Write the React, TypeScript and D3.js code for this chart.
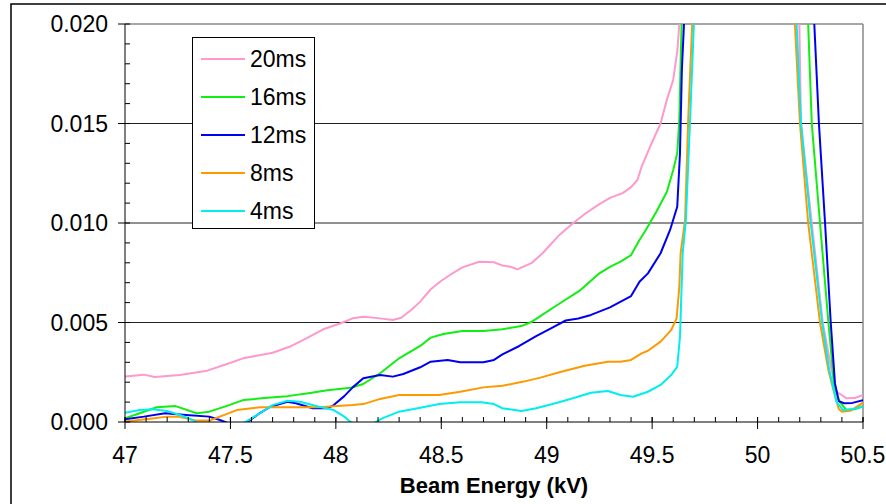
import React from 'react'
import * as d3 from 'd3'

// values are read in units of 0.001, converted when plotted
const series20ms: [number, number][] = [
  [47.0, 2.28], [47.09, 2.38], [47.14, 2.26], [47.26, 2.36], [47.39, 2.58], [47.48, 2.9],
  [47.56, 3.2], [47.7, 3.48], [47.78, 3.78], [47.86, 4.2], [47.94, 4.66], [48.02, 4.95],
  [48.08, 5.21], [48.13, 5.29], [48.2, 5.22], [48.27, 5.13], [48.31, 5.24], [48.36, 5.65],
  [48.4, 6.05], [48.45, 6.67], [48.5, 7.1], [48.55, 7.45], [48.6, 7.77], [48.68, 8.05],
  [48.75, 8.03], [48.79, 7.86], [48.83, 7.8], [48.86, 7.67], [48.93, 8.0], [48.98, 8.48],
  [49.06, 9.4], [49.12, 9.95], [49.18, 10.45], [49.25, 10.95], [49.3, 11.26], [49.36, 11.5],
  [49.4, 11.8], [49.43, 12.16], [49.45, 12.83], [49.49, 13.83], [49.54, 15.0], [49.57, 16.2],
  [49.6, 17.2], [49.619, 18.6], [49.629, 20.0], [49.75, 45], [50.1, 45], [50.198, 20.0],
  [50.206, 15.0], [50.257, 10.0], [50.309, 5.0], [50.351, 2.6], [50.375, 1.52], [50.423, 1.19],
  [50.46, 1.2], [50.5, 1.36],
]

const series16ms: [number, number][] = [
  [47.0, 0.18], [47.07, 0.44], [47.15, 0.74], [47.24, 0.8], [47.34, 0.44], [47.4, 0.52],
  [47.48, 0.8], [47.56, 1.1], [47.66, 1.2], [47.77, 1.3], [47.87, 1.45], [47.96, 1.6],
  [48.07, 1.72], [48.13, 1.91], [48.21, 2.45], [48.3, 3.2], [48.4, 3.82], [48.45, 4.24],
  [48.51, 4.42], [48.6, 4.57], [48.7, 4.57], [48.79, 4.66], [48.88, 4.82], [48.93, 5.04],
  [49.05, 5.88], [49.16, 6.63], [49.25, 7.47], [49.3, 7.8], [49.35, 8.06], [49.4, 8.39],
  [49.44, 9.15], [49.47, 9.65], [49.52, 10.57], [49.57, 11.57], [49.6, 12.66], [49.619, 13.5],
  [49.629, 15.2], [49.636, 18.5], [49.64, 20.0], [49.75, 45], [50.1, 45], [50.24, 20.0],
  [50.257, 15.0], [50.296, 10.0], [50.336, 5.0], [50.364, 1.78], [50.39, 1.0], [50.42, 0.62],
  [50.46, 0.64], [50.5, 0.8],
]

const series12ms: [number, number][] = [
  [47.0, 0.14], [47.09, 0.27], [47.19, 0.44], [47.29, 0.35], [47.4, 0.27], [47.45, 0.1],
  [47.5, -0.1], [47.54, -0.3], [47.58, 0.0], [47.64, 0.45], [47.69, 0.77], [47.77, 1.02],
  [47.81, 0.94], [47.89, 0.69], [47.96, 0.69], [47.99, 0.85], [48.04, 1.3], [48.08, 1.74],
  [48.13, 2.2], [48.21, 2.36], [48.27, 2.28], [48.32, 2.41], [48.4, 2.75], [48.45, 3.03],
  [48.53, 3.12], [48.59, 3.0], [48.7, 3.0], [48.75, 3.12], [48.79, 3.4], [48.87, 3.82],
  [48.95, 4.32], [49.02, 4.71], [49.09, 5.1], [49.15, 5.2], [49.21, 5.38], [49.3, 5.76],
  [49.4, 6.33], [49.44, 7.05], [49.48, 7.47], [49.54, 8.48], [49.585, 9.65], [49.619, 10.82],
  [49.632, 13.5], [49.641, 17.7], [49.651, 20.0], [49.75, 45], [50.1, 45], [50.269, 20.0],
  [50.291, 15.0], [50.32, 10.0], [50.347, 5.0], [50.367, 1.94], [50.385, 1.05], [50.41, 0.94],
  [50.45, 0.96], [50.5, 1.1],
]

const series8ms: [number, number][] = [
  [47.0, 0.02], [47.13, 0.18], [47.2, 0.27], [47.25, 0.27], [47.34, 0.07], [47.4, 0.07],
  [47.45, 0.27], [47.53, 0.6], [47.64, 0.74], [47.8, 0.74], [47.92, 0.74], [48.08, 0.85],
  [48.13, 0.9], [48.21, 1.16], [48.3, 1.36], [48.49, 1.36], [48.59, 1.52], [48.7, 1.74],
  [48.79, 1.82], [48.89, 2.03], [48.97, 2.23], [49.06, 2.5], [49.18, 2.83], [49.29, 3.03],
  [49.35, 3.03], [49.4, 3.12], [49.45, 3.45], [49.48, 3.58], [49.54, 4.04], [49.59, 4.62],
  [49.616, 5.21], [49.629, 6.8], [49.635, 8.48], [49.656, 10.15], [49.671, 15.2], [49.69, 20.0],
  [49.8, 45], [50.1, 45], [50.177, 20.0], [50.201, 15.0], [50.24, 10.0], [50.296, 5.0],
  [50.336, 2.6], [50.36, 1.6], [50.385, 0.65], [50.4, 0.52], [50.44, 0.56], [50.5, 0.97],
]

const series4ms: [number, number][] = [
  [47.0, 0.47], [47.07, 0.6], [47.13, 0.64], [47.2, 0.55], [47.26, 0.35], [47.32, 0.1],
  [47.4, -0.4], [47.5, -0.4], [47.57, 0.0], [47.64, 0.44], [47.7, 0.85], [47.77, 1.07],
  [47.83, 1.02], [47.92, 0.77], [47.99, 0.6], [48.04, 0.27], [48.07, 0.0], [48.13, -0.3],
  [48.19, 0.0], [48.22, 0.18], [48.3, 0.52], [48.4, 0.72], [48.49, 0.9], [48.59, 0.99],
  [48.69, 0.99], [48.75, 0.9], [48.79, 0.69], [48.88, 0.55], [48.95, 0.69], [49.05, 0.97],
  [49.14, 1.24], [49.21, 1.47], [49.29, 1.56], [49.35, 1.36], [49.41, 1.27], [49.48, 1.52],
  [49.54, 1.86], [49.59, 2.36], [49.619, 2.78], [49.632, 4.29], [49.645, 8.48], [49.66, 10.15],
  [49.68, 15.2], [49.698, 20.0], [49.8, 45], [50.1, 45], [50.185, 20.0], [50.206, 15.0],
  [50.252, 10.0], [50.306, 5.0], [50.34, 2.6], [50.375, 1.0], [50.405, 0.6], [50.45, 0.64],
  [50.5, 0.77],
]

const seriesNames = ['20ms', '16ms', '12ms', '8ms', '4ms']
const seriesColors = ['#FF99CC', '#11EE11', '#0000F0', '#FF9900', '#00EEEE']
const seriesData = [series20ms, series16ms, series12ms, series8ms, series4ms]

const yTicks = [0, 0.005, 0.01, 0.015, 0.02]
const xTicks = [47, 47.5, 48, 48.5, 49, 49.5, 50, 50.5]
const xTitle = 'Beam Energy (kV)'

const W = 886
const H = 504
const left = 125
const right = 863
const top = 24
const bottom = 422
const font = 'Liberation Sans, Arial, sans-serif'

export default function App() {
  const x = d3.scaleLinear().domain([47, 50.5]).range([left, right])
  const y = d3.scaleLinear().domain([0, 0.02]).range([bottom, top])

  const line = d3
    .line<[number, number]>()
    .x((d) => x(d[0]))
    .y((d) => y(d[1] / 1000))

  const minorX = d3.range(0, 36).map((i) => 47 + i * 0.1)
  const minorY = d3.range(0, 21).map((i) => i * 0.001)
  const legendRows = seriesNames.map((name, i) => ({ name, color: seriesColors[i], cy: 59 + i * 38 }))

  return (
    <svg width={W} height={H} style={{ position: 'absolute', left: 0, top: 0, fontFamily: font }}>
      <rect x={0} y={0} width={W} height={H} fill="#fff" />
      <rect x={11} y={4} width={W + 20} height={H + 20} fill="none" stroke="#000" strokeWidth={1.5} />
      <defs>
        <clipPath id="plot">
          <rect x={left} y={top} width={right - left} height={bottom - top} />
        </clipPath>
      </defs>

      {/* gridlines */}
      {yTicks.slice(1, -1).map((t) => (
        <line key={t} x1={left} x2={right} y1={y(t)} y2={y(t)} stroke="#222" strokeWidth={1} />
      ))}
      <line x1={left} x2={right} y1={top} y2={top} stroke="#888" strokeWidth={1.5} />
      <line x1={right} x2={right} y1={top} y2={bottom} stroke="#888" strokeWidth={1.5} />

      {/* series */}
      <g clipPath="url(#plot)">
        {seriesData.map((s, i) => (
          <path key={i} d={line(s) ?? ''} fill="none" stroke={seriesColors[i]} strokeWidth={2} strokeLinejoin="round" />
        ))}
      </g>

      {/* axes */}
      <line x1={left} x2={left} y1={top} y2={bottom} stroke="#000" strokeWidth={1} />
      <line x1={left} x2={right} y1={bottom} y2={bottom} stroke="#000" strokeWidth={1} />
      {minorY.map((t) => (
        <line key={'my' + t} x1={left} x2={left + 5} y1={y(t)} y2={y(t)} stroke="#000" />
      ))}
      {yTicks.map((t) => (
        <g key={'y' + t}>
          <line x1={left - 7} x2={left} y1={y(t)} y2={y(t)} stroke="#000" />
          <text x={left - 17} y={y(t) + 8} textAnchor="end" fontSize={23} fill="#000">
            {d3.format('.3f')(t)}
          </text>
        </g>
      ))}
      {minorX.map((t) => (
        <line key={'mx' + t} x1={x(t)} x2={x(t)} y1={bottom - 5} y2={bottom} stroke="#000" />
      ))}
      {xTicks.map((t) => (
        <g key={'x' + t}>
          <line x1={x(t)} x2={x(t)} y1={bottom - 5} y2={bottom + 7} stroke="#000" />
          <text x={x(t)} y={463} textAnchor="middle" fontSize={23} fill="#000">
            {String(t)}
          </text>
        </g>
      ))}
      <text x={(left + right) / 2} y={493} textAnchor="middle" fontSize={22} fontWeight="bold" fill="#000">
        {xTitle}
      </text>

      {/* legend */}
      <rect x={192.5} y={37.5} width={122} height={191} fill="#fff" stroke="#000" strokeWidth={1} />
      {legendRows.map((r) => (
        <g key={r.name}>
          <line x1={201} x2={245} y1={r.cy} y2={r.cy} stroke={r.color} strokeWidth={2} />
          <text x={250} y={r.cy + 8} fontSize={23} fill="#000">
            {r.name}
          </text>
        </g>
      ))}
    </svg>
  )
}
